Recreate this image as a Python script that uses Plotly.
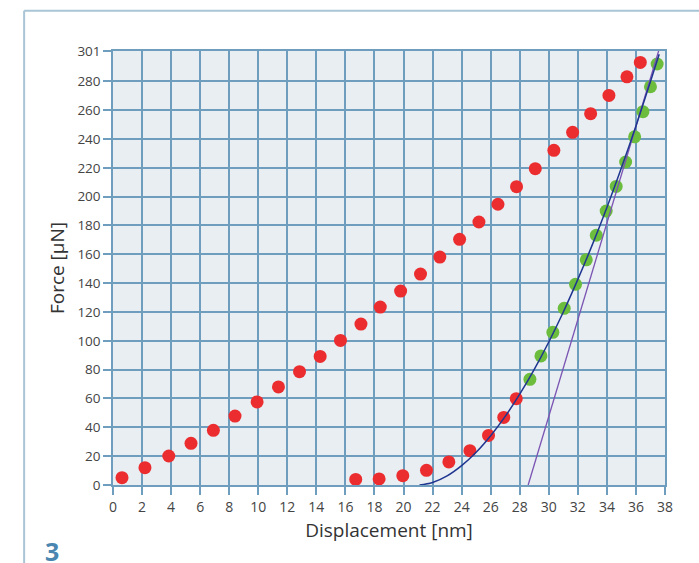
import plotly.graph_objects as go

# Loading curve (red, upper branch)
load_x = [0.62, 2.2, 3.84, 5.37, 6.91, 8.4, 9.92, 11.39, 12.84, 14.26, 15.66,
          17.07, 18.4, 19.8, 21.17, 22.5, 23.86, 25.19, 26.5, 27.78, 29.07,
          30.35, 31.64, 32.88, 34.14, 35.38, 36.3]
load_y = [5.1, 12.0, 20.1, 28.9, 37.9, 47.8, 57.6, 68.0, 78.6, 89.2, 100.3,
          111.6, 123.4, 134.5, 146.3, 158.1, 170.4, 182.4, 194.7, 206.9, 219.4,
          232.1, 244.6, 257.5, 270.2, 283.1, 293.1]

# Unloading curve, lower part (red)
unl_red_x = [16.71, 18.32, 19.95, 21.58, 23.12, 24.57, 25.85, 26.9, 27.76]
unl_red_y = [3.9, 4.2, 6.5, 10.2, 16.0, 23.8, 34.4, 46.9, 59.9]

# Unloading curve, fitted part (green)
unl_green_x = [28.7, 29.46, 30.28, 31.06, 31.84, 32.58, 33.27, 33.95, 34.64,
               35.29, 35.91, 36.48, 37.0, 37.46]
unl_green_y = [73.3, 89.5, 105.9, 122.5, 139.2, 156.2, 173.2, 190.0, 207.1,
               224.0, 241.5, 258.9, 276.2, 292.0]

# Fit curve (blue)
fit_x = [21.1, 22, 23, 24, 25, 26, 27, 28, 29, 30, 31, 32, 33, 34, 35, 36, 37, 37.6]
fit_y = [0, 1.7, 6.3, 13.4, 22.7, 34.2, 47.6, 63, 80.2, 99.2, 120, 142.6,
         166.7, 192.5, 220, 249, 279.8, 298.7]

# Tangent line (purple)
tan_x = [28.58, 37.56]
tan_y = [0, 301]

x_ticks = list(range(0, 39, 2))
y_ticks = list(range(0, 281, 20)) + [301]

RED = "#ec2d2f"
GREEN = "#6cbd3e"

fig = go.Figure()
fig.add_trace(go.Scatter(x=load_x, y=load_y, mode="markers",
                         marker=dict(size=13, color=RED), showlegend=False))
fig.add_trace(go.Scatter(x=unl_red_x, y=unl_red_y, mode="markers",
                         marker=dict(size=13, color=RED), showlegend=False))
fig.add_trace(go.Scatter(x=unl_green_x, y=unl_green_y, mode="markers",
                         marker=dict(size=13, color=GREEN), showlegend=False))
fig.add_trace(go.Scatter(x=tan_x, y=tan_y, mode="lines",
                         line=dict(color="#7b54b3", width=1.3), showlegend=False))
fig.add_trace(go.Scatter(x=fit_x, y=fit_y, mode="lines", line_shape="spline",
                         line=dict(color="#1f3590", width=1.5), showlegend=False))

grid = "#6f9dbd"
fig.update_xaxes(range=[0, 38], tickvals=x_ticks, ticktext=[str(v) for v in x_ticks],
                 showgrid=True, gridcolor=grid, gridwidth=1.5,
                 ticks="outside", ticklen=8, tickcolor=grid, tickwidth=1.5,
                 showline=True, linecolor=grid, linewidth=1.5, mirror=True,
                 zeroline=False,
                 tickfont=dict(family="Open Sans", size=14, color="#444"),
                 title=dict(text="Displacement [nm]", standoff=9,
                            font=dict(family="Open Sans", size=19, color="#333")))
fig.update_yaxes(range=[0, 301], tickvals=y_ticks, ticktext=[str(v) for v in y_ticks],
                 showgrid=True, gridcolor=grid, gridwidth=1.5,
                 ticks="outside", ticklen=8, tickcolor=grid, tickwidth=1.5,
                 showline=True, linecolor=grid, linewidth=1.5, mirror=True,
                 zeroline=False,
                 tickfont=dict(family="Open Sans", size=13.5, color="#444"),
                 title=dict(text="Force [µN]", standoff=8,
                            font=dict(family="Open Sans", size=19, color="#333")))

fig.update_layout(
    width=699, height=563,
    margin=dict(l=113, r=34, t=51, b=78),
    plot_bgcolor="#e8eef2", paper_bgcolor="white",
    shapes=[
        dict(type="line", xref="paper", yref="paper", x0=-0.161, x1=1.1, y0=1.093, y1=1.093,
             line=dict(color="#a9c5d6", width=2)),
        dict(type="line", xref="paper", yref="paper", x0=-0.161, x1=-0.161, y0=1.093, y1=-0.2,
             line=dict(color="#a9c5d6", width=2)),
    ],
    annotations=[
        dict(text="<b>3</b>", xref="paper", yref="paper", x=-0.1268, y=-0.152,
             xanchor="left", yanchor="middle", showarrow=False,
             font=dict(family="Open Sans", size=25, color="#4a86b0")),
    ],
)

fig.write_html("out.html", config={"displayModeBar": False},
               post_script="document.body.style.margin='0';document.body.style.overflow='hidden';")
